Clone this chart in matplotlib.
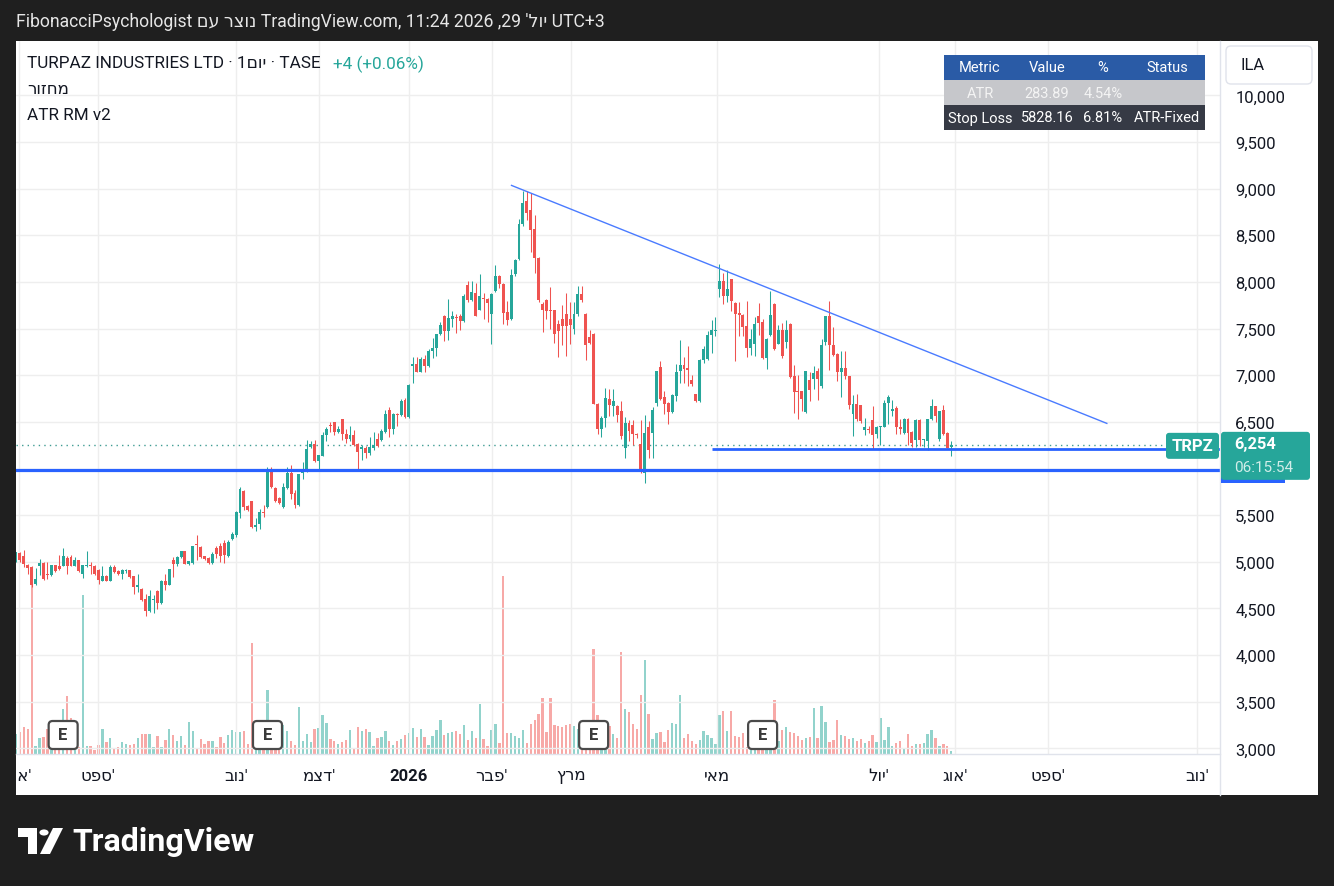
import matplotlib
matplotlib.use('Agg')
import matplotlib.pyplot as plt
import numpy as np
from matplotlib.patches import Rectangle, FancyBboxPatch, Polygon, Circle
from matplotlib.lines import Line2D
from matplotlib.transforms import blended_transform_factory, Bbox, IdentityTransform

plt.rcParams['font.family'] = ['Roboto', 'DejaVu Sans']

W, H = 1334, 887

# daily candles, TRPZ (TASE), Aug 2025 -> Jul 2026
opens = [5015, 5098, 5058, 4962, 4944, 4758, 4955, 4990, 4866, 4855,
         4962, 4955, 4955, 5040, 5050, 4955, 5015, 4865, 4955, 4962,
         4950, 4908, 4794, 4844, 4794, 4944, 4900, 4866, 4900, 4908,
         4844, 4730, 4712, 4597, 4472, 4594, 4683, 4558, 4790, 4755,
         5015, 4972, 5051, 5112, 4980, 4987, 5194, 5158, 5058, 5040,
         4987, 5150, 5170, 5200, 5060, 5250, 5283, 5522, 5755, 5594,
         5647, 5372, 5408, 5533, 5587, 5962, 5790, 5683, 5587, 5790,
         5951, 5737, 5605, 5951, 5970, 6230, 6265, 6076, 6134, 6355,
         6462, 6495, 6390, 6527, 6373, 6312, 6355, 6259, 6212, 6220,
         6166, 6220, 6312, 6302, 6390, 6623, 6427, 6587, 6570, 6730,
         6552, 7100, 7116, 7034, 7170, 7099, 7256, 7295, 7445, 7635,
         7470, 7606, 7625, 7635, 7581, 7963, 7810, 7885, 7703, 7828,
         7814, 7660, 7903, 8060, 7975, 7677, 7599, 8081, 8242, 8617,
         8864, 8767, 8563, 8260, 7767, 7810, 7700, 7695, 7545, 7599,
         7660, 7606, 7492, 7652, 7867, 7660, 7410, 7446, 6695, 6420,
         6545, 6748, 6670, 6670, 6616, 6223, 6491, 6462, 6373, 6259,
         5951, 6445, 6380, 6702, 7084, 6766, 6702, 6605, 6773, 7041,
         7106, 7077, 6945, 6795, 6724, 7159, 7177, 7434, 7475, 7928,
         8010, 7849, 8027, 7774, 7667, 7642, 7524, 7295, 7338, 7631,
         7570, 7184, 7427, 7760, 7338, 7481, 7356, 7553, 6988, 6827,
         6827, 6606, 6945, 6955, 7045, 6880, 7356, 7634, 7320, 7224,
         7035, 7080, 6988, 6588, 6688, 6677, 6409, 6420, 6516, 6366,
         6445, 6445, 6702, 6613, 6648, 6445, 6380, 6534, 6391, 6302,
         6516, 6302, 6295, 6527, 6666, 6313, 6623, 6384, 6230]
highs = [5110, 5105, 5130, 4975, 4960, 4935, 5035, 4995, 4995, 4965,
         4965, 5075, 5145, 5060, 5075, 5050, 5022, 4970, 5112, 5000,
         4965, 4920, 4960, 4860, 4962, 4962, 4910, 4920, 4925, 4915,
         4850, 4865, 4720, 4660, 4695, 4640, 4700, 4800, 4865, 4925,
         5048, 5058, 5120, 5115, 5010, 5175, 5283, 5165, 5065, 5050,
         5110, 5165, 5200, 5230, 5230, 5320, 5540, 5800, 5770, 5610,
         5650, 5465, 5570, 5605, 6020, 6020, 5800, 5700, 5850, 6020,
         6040, 5765, 5945, 6065, 6310, 6300, 6310, 6150, 6390, 6445,
         6500, 6500, 6460, 6530, 6420, 6460, 6410, 6270, 6250, 6240,
         6340, 6390, 6380, 6420, 6630, 6660, 6600, 6600, 6750, 6760,
         6910, 7195, 7195, 7195, 7220, 7280, 7400, 7440, 7570, 7650,
         7820, 7690, 7660, 7660, 7870, 8010, 8010, 7990, 8080, 7880,
         7830, 7880, 8185, 8070, 7985, 7800, 8140, 8245, 8670, 8980,
         8975, 8950, 8715, 8268, 7785, 7820, 7950, 7700, 7590, 7750,
         7880, 7780, 7780, 7960, 7960, 7670, 7480, 7450, 6700, 6560,
         6860, 6850, 6850, 6680, 6720, 6555, 6520, 6520, 6380, 6520,
         6570, 6505, 6660, 7045, 7150, 6830, 6710, 6800, 7120, 7375,
         7200, 7310, 7000, 6800, 7170, 7310, 7470, 7590, 7620, 8190,
         8100, 8124, 8030, 7780, 7780, 7660, 7800, 7500, 7620, 7778,
         7600, 7400, 7900, 7770, 7540, 7560, 7590, 7560, 7110, 7000,
         6830, 7050, 7040, 7100, 7080, 7390, 7640, 7800, 7520, 7240,
         7260, 7255, 6995, 6790, 6795, 6680, 6540, 6460, 6666, 6460,
         6460, 6740, 6790, 6740, 6670, 6530, 6540, 6545, 6400, 6530,
         6530, 6320, 6535, 6750, 6670, 6620, 6680, 6390, 6290]
lows = [5000, 5000, 4944, 4870, 4730, 4750, 4860, 4810, 4815, 4850,
        4890, 4915, 4950, 4870, 4950, 4950, 4895, 4826, 4940, 4870,
        4860, 4760, 4790, 4790, 4790, 4880, 4855, 4815, 4880, 4830,
        4660, 4680, 4585, 4420, 4465, 4455, 4490, 4550, 4700, 4750,
        4835, 4960, 5040, 4975, 4970, 4980, 5015, 5045, 5020, 4975,
        4980, 5040, 5000, 4990, 5050, 5230, 5270, 5470, 5560, 5545,
        5365, 5330, 5355, 5480, 5580, 5790, 5640, 5620, 5580, 5780,
        5672, 5580, 5600, 5885, 5960, 6215, 6070, 5980, 6130, 6290,
        6390, 6360, 6380, 6310, 6270, 6290, 6240, 6000, 6090, 6110,
        6140, 6200, 6230, 6290, 6380, 6340, 6370, 6460, 6560, 6545,
        6540, 6916, 7030, 7030, 7040, 7090, 7190, 7210, 7435, 7365,
        7380, 7520, 7450, 7480, 7570, 7780, 7800, 7630, 7696, 7600,
        7570, 7333, 7890, 7940, 7550, 7540, 7590, 8060, 8235, 8600,
        8660, 8320, 8095, 7790, 7465, 7600, 7500, 7345, 7200, 7320,
        7210, 7330, 7440, 7640, 7780, 7160, 7340, 6690, 6370, 6340,
        6450, 6560, 6560, 6500, 6320, 6110, 6290, 6250, 6330, 5955,
        5845, 6110, 6110, 6675, 6730, 6580, 6480, 6595, 6720, 6920,
        6920, 6880, 6880, 6710, 6710, 7130, 7160, 7240, 7420, 7840,
        7760, 7780, 7690, 7150, 7420, 7420, 7200, 7215, 7210, 7427,
        7170, 7065, 7420, 7270, 7330, 7180, 7290, 6975, 6590, 6530,
        6620, 6600, 6720, 6850, 6730, 6860, 7320, 7060, 7210, 6940,
        6770, 6960, 6640, 6350, 6510, 6490, 6355, 6380, 6205, 6330,
        6250, 6440, 6480, 6560, 6370, 6370, 6365, 6250, 6230, 6230,
        6240, 6230, 6200, 6520, 6500, 6300, 6360, 6220, 6130]
closes = [5105, 5015, 4972, 4937, 4747, 4819, 4990, 4815, 4858, 4962,
          4898, 4925, 5058, 4955, 4955, 5015, 4900, 4962, 4962, 4955,
          4866, 4801, 4844, 4794, 4944, 4890, 4866, 4908, 4915, 4837,
          4730, 4747, 4594, 4472, 4630, 4600, 4558, 4790, 4747, 4919,
          4972, 5051, 5112, 4980, 5005, 5165, 5176, 5051, 5026, 4987,
          5087, 5080, 5060, 5070, 5210, 5300, 5533, 5783, 5587, 5551,
          5372, 5390, 5533, 5522, 5962, 5801, 5647, 5630, 5801, 5951,
          5730, 5605, 5940, 5980, 6205, 6265, 6076, 6140, 6355, 6420,
          6452, 6390, 6420, 6373, 6312, 6355, 6255, 6177, 6226, 6166,
          6230, 6248, 6240, 6398, 6580, 6427, 6587, 6570, 6720, 6552,
          6898, 7116, 7034, 7170, 7099, 7260, 7295, 7438, 7542, 7470,
          7613, 7635, 7616, 7581, 7845, 7810, 7892, 7635, 7845, 7818,
          7774, 7875, 8060, 7982, 7667, 7595, 8070, 8231, 8617, 8846,
          8739, 8553, 8260, 7803, 7695, 7688, 7690, 7438, 7474, 7527,
          7527, 7535, 7652, 7867, 7803, 7320, 7349, 6695, 6420, 6545,
          6756, 6677, 6720, 6570, 6348, 6491, 6402, 6373, 6363, 5962,
          6384, 6195, 6623, 7041, 6748, 6695, 6605, 6784, 7034, 7106,
          7070, 7052, 6902, 6724, 7159, 7277, 7434, 7481, 7481, 8010,
          7849, 7920, 7795, 7660, 7642, 7517, 7295, 7391, 7545, 7563,
          7184, 7392, 7642, 7277, 7481, 7202, 7481, 6981, 6820, 6820,
          6741, 7041, 6838, 7024, 6963, 7320, 7634, 7320, 7220, 7035,
          7080, 6990, 6677, 6688, 6527, 6509, 6445, 6413, 6363, 6445,
          6455, 6706, 6766, 6642, 6445, 6427, 6534, 6380, 6277, 6516,
          6302, 6302, 6527, 6666, 6559, 6613, 6373, 6223, 6254]
volumes = [60, 65, 80, 75, 515, 25, 48, 52, 75, 20,
           20, 20, 135, 175, 108, 20, 20, 478, 23, 23,
           13, 28, 75, 35, 48, 18, 20, 37, 30, 28,
           30, 48, 60, 60, 60, 20, 55, 20, 42, 75,
           57, 38, 53, 28, 95, 68, 17, 45, 30, 38,
           38, 20, 52, 33, 58, 72, 65, 65, 70, 30,
           333, 20, 20, 20, 192, 25, 25, 20, 87, 68,
           40, 28, 142, 40, 60, 35, 75, 78, 118, 93,
           45, 38, 30, 37, 42, 72, 15, 82, 70, 75,
           65, 25, 48, 52, 68, 40, 28, 40, 45, 58,
           62, 78, 52, 75, 52, 28, 55, 72, 102, 57,
           63, 65, 68, 60, 88, 43, 68, 48, 150, 45,
           25, 72, 90, 33, 535, 63, 63, 53, 47, 72,
           33, 90, 102, 120, 168, 65, 168, 87, 83, 80,
           87, 90, 83, 75, 20, 20, 20, 315, 118, 20,
           20, 85, 60, 48, 307, 135, 127, 90, 75, 177,
           282, 120, 45, 63, 67, 37, 72, 93, 90, 177,
           48, 60, 38, 30, 43, 68, 58, 48, 30, 118,
           128, 70, 128, 55, 50, 62, 20, 20, 20, 20,
           20, 20, 20, 162, 38, 72, 80, 65, 62, 55,
           42, 48, 52, 138, 48, 145, 95, 37, 42, 102,
           57, 53, 45, 48, 40, 45, 33, 38, 57, 37,
           108, 42, 82, 25, 33, 38, 18, 60, 23, 30,
           30, 33, 60, 72, 47, 23, 30, 23, 8]

# time scale (bar index of each month start), labels in visual order
month_pos = [0.8, 20.9, 56.0, 77.1, 100.0, 121.1, 141.2, 178.4, 219.6, 239.0, 262.6, 300.5]
month_labels = ["גוא'", "טפס'", "בונ'", "מצד'", "2026", "רבפ'", "ץרמ", "יאמ", "לוי'", "גוא'", "טפס'", "בונ'"]
price_ticks = list(range(3000, 10001, 500))

earnings_bars = [12, 64, 147, 190]
trend_x = [126.1, 277.6]
trend_y = [9035, 6484]
support_main = 5985
support_short = 6205
support_short_start = 177
last_price = 6254

table_header = ["Metric", "Value", "%", "Status"]
table_atr = ["ATR", "283.89", "4.54%", ""]
table_stop = ["Stop Loss", "5828.16", "6.81%", "ATR-Fixed"]

UP, DOWN = '#26a69a', '#ef5350'
BLUE = '#2962ff'
GRID = '#eeeeee'
TXT = '#131722'

fig = plt.figure(figsize=(W / 100, H / 100), dpi=100, facecolor='#1f1f1f')


def fx(x):
    return x / W


def fy(y):
    return 1 - y / H


# white chart panel
fig.add_artist(Rectangle((fx(16), fy(796)), (1318 - 16) / W, (796 - 42) / H,
                         transform=fig.transFigure, fc='white', ec='none', zorder=-5))

ax = fig.add_axes([fx(16), fy(755), 1204 / W, 713 / H])
vax = ax.twinx()
ax.set_zorder(vax.get_zorder() + 1)
ax.patch.set_visible(False)

o = np.array(opens)
h = np.array(highs)
l = np.array(lows)
c = np.array(closes)
idx = np.arange(len(c))
up = c >= o
cols = np.where(up, UP, DOWN)

ax.set_xlim(0, 306.4)
ax.set_ylim(2940, 10583)

# grid
for p in price_ticks:
    ax.axhline(p, color=GRID, lw=1, zorder=0.5)
for m in month_pos:
    ax.axvline(m, color=GRID, lw=1, zorder=0.5)

# volume
vcols = np.where(up, '#92d3cc', '#f7a9a7')
vax.bar(idx, volumes, width=0.6, color=vcols, linewidth=0)
vax.set_ylim(0, 713 * 3)
vax.set_yticks([])
for s in vax.spines.values():
    s.set_visible(False)

# last price dotted line
ax.axhline(last_price, color='#3f9c93', lw=1, ls=(0, (1, 3)), zorder=1)

# candles
ax.vlines(idx, l, h, colors=cols, lw=0.75, zorder=2)
body_lo = np.minimum(o, c)
body_h = np.maximum(np.abs(c - o), 10)
ax.bar(idx, body_h, bottom=body_lo, width=0.75, color=cols, linewidth=0, zorder=3)

# drawings
ax.plot(trend_x, trend_y, color='#4a7bff', lw=1.0, zorder=4)
ax.axhline(support_main, color=BLUE, lw=2.3, zorder=4)
ax.hlines(support_short, support_short_start, 306.4, color=BLUE, lw=2.0, zorder=4)

# price scale (6,000 sits under the last-price label)
ax.yaxis.tick_right()
ax.set_yticks(price_ticks)
ax.set_yticklabels(["" if p == 6000 else f"{p:,}" for p in price_ticks])
ax.tick_params(axis='y', length=0, pad=11, labelsize=12, labelcolor=TXT)
ax.set_xticks([])
for s in ax.spines.values():
    s.set_visible(False)

# time scale labels, clipped to the panel
clip = Bbox.from_extents(16, 0, 1220, H)
tb = blended_transform_factory(ax.transData, ax.transAxes)
for pos, lab in zip(month_pos, month_labels):
    t = ax.text(pos, -0.0295, lab, transform=tb, ha='center', va='center', fontsize=12,
                color=TXT, fontweight='bold' if lab == '2026' else 'normal', clip_on=True)
    t.set_clip_box(clip)

# earnings markers
for b in earnings_bars:
    xd, yd = ax.transData.transform((b, 0))
    yb = ax.transAxes.transform((0, 0))[1]
    fig.add_artist(FancyBboxPatch((xd - 14.5, yb + 5), 29, 28,
                                  boxstyle="round,pad=0,rounding_size=4",
                                  transform=IdentityTransform(), fc='white', ec='#4a4a4a', lw=1.6, zorder=2))
    fig.text(xd / W, (yb + 19) / H, 'E', ha='center', va='center', fontsize=12,
             fontweight='bold', color='#3a3a3a', zorder=3)

# separators
fig.add_artist(Line2D([fx(1220), fx(1220)], [fy(42), fy(796)], transform=fig.transFigure, color='#e0e3eb', lw=1))
fig.add_artist(Line2D([fx(16), fx(1220)], [fy(755), fy(755)], transform=fig.transFigure, color='#e0e3eb', lw=1))


def price_px(p):
    return H - ax.transData.transform((0, p))[1]


def box(x0, y0, x1, y1, fc, ec='none', lw=0, r=0, z=4):
    style = f"round,pad=0,rounding_size={r}" if r else "square,pad=0"
    fig.add_artist(FancyBboxPatch((x0, H - y1), x1 - x0, y1 - y0, boxstyle=style,
                                  transform=IdentityTransform(), fc=fc, ec=ec, lw=lw, zorder=z))


# price labels on the scale
ys = price_px(support_main)
box(1221, ys - 11, 1285, ys + 13, BLUE)
yp = price_px(last_price)
box(1221, yp - 13, 1310, yp + 35, UP, r=3, z=5)
fig.text(fx(1234), fy(yp - 1), f"{last_price:,}", ha='left', va='center', fontsize=11.8,
         fontweight='bold', color='white', zorder=6)
fig.text(fx(1234), fy(yp + 22), "06:15:54", ha='left', va='center', fontsize=11,
         color='#d2ede9', zorder=6)
box(1166, yp - 12, 1219, yp + 14, UP, r=3, z=5)
fig.text(fx(1192.5), fy(yp + 1), "TRPZ", ha='center', va='center', fontsize=12,
         fontweight='bold', color='white', zorder=6)

# currency box
box(1226, 47, 1312, 85, 'white', ec='#e0e3eb', lw=1, r=5, z=5)
fig.text(fx(1240), fy(66), "ILA", ha='left', va='center', fontsize=12, color=TXT, zorder=6)

# legend texts
fig.text(fx(27), fy(64), "TURPAZ INDUSTRIES LTD · 1םוי · TASE", ha='left', va='center',
         fontsize=12.3, color=TXT)
fig.text(fx(333), fy(64), "+4 (+0.06%)", ha='left', va='center', fontsize=12.3, color=UP)
fig.text(fx(27), fy(90), "רוזחמ", ha='left', va='center', fontsize=12, color=TXT)
fig.text(fx(27), fy(115), "ATR RM v2", ha='left', va='center', fontsize=12.3, color=TXT)

# ATR table
col_x = [980, 1047, 1103, 1167]
rows = [(table_header, 56, '#2a5ba6', 'white'),
        (table_atr, 81, '#c6c7cb', '#f4f4f4'),
        (table_stop, 106, '#363a45', 'white')]
for cells, y0, bg, fg in rows:
    box(944, y0, 1205, y0 + 25, bg, z=5)
    for cx, s in zip(col_x, cells):
        fig.text(fx(cx), fy(y0 + 12.5), s, ha='center', va='center', fontsize=10.5,
                 color=fg, zorder=6)

# header
fig.text(fx(16), fy(22), "FibonacciPsychologist םע רצונ TradingView.com, 11:24 2026 ,29 'לוי UTC+3",
         ha='left', va='center', fontsize=12.7, color='#e6e6e6')

# footer logo
fig.add_artist(Polygon([(fx(18), fy(829)), (fx(37), fy(829)), (fx(37), fy(855)), (fx(28), fy(855)),
                        (fx(28), fy(838)), (fx(18), fy(838))], closed=True,
                       transform=fig.transFigure, fc='white', ec='none'))
fig.add_artist(Circle((fx(44), fy(833.5)), 4.6 / W, transform=fig.transFigure, fc='white', ec='none'))
fig.add_artist(Polygon([(fx(40), fy(855)), (fx(50), fy(855)), (fx(63), fy(829)), (fx(53), fy(829))],
                       closed=True, transform=fig.transFigure, fc='white', ec='none'))
fig.text(fx(72), fy(842), "TradingView", ha='left', va='center', fontsize=23,
         fontweight='bold', color='white')

fig.savefig('out.png', dpi=100, facecolor=fig.get_facecolor())
